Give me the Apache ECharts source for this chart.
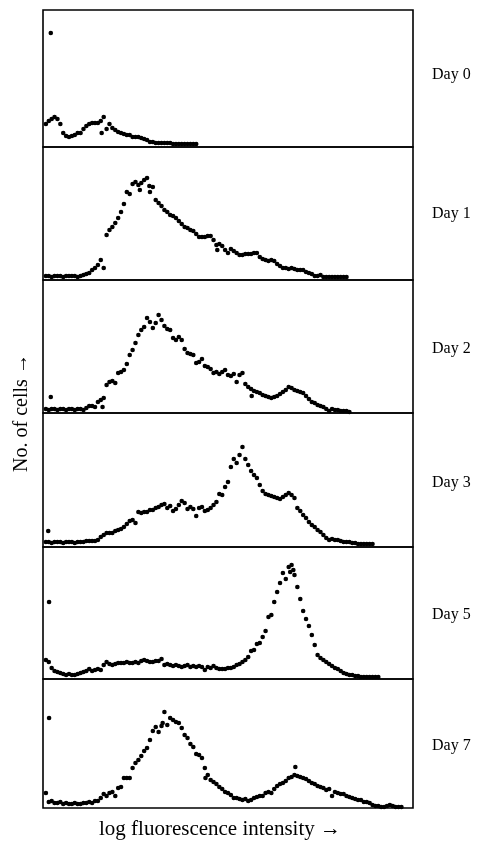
<!DOCTYPE html>
<html>
<head>
<meta charset="utf-8">
<script src="https://cdn.jsdelivr.net/npm/echarts@6/dist/echarts.min.js"></script>
<style>
html,body{margin:0;padding:0;background:#fff;}
#chart{width:486px;height:842px;}
</style>
</head>
<body>
<div id="chart"></div>
<script>
// ---- data (channel index = position in array; value = relative number of cells) ----
const panelLabels = ['Day 0', 'Day 1', 'Day 2', 'Day 3', 'Day 5', 'Day 7'];
const xAxisTitle = 'log fluorescence intensity \u2192';
const yAxisTitle = 'No. of cells \u2192';
const channelCount = 128;

const day0 = [null,
  23,26,28,30,28,23,14,11,10,11,
  12,14,14,18,21,23,24,24,24,26,
  30,18,23,19,17,15,14,13,12,12,
  10,10,10,9,8,7,5,5,4,4,
  4,4,4,4,3,3,3,3,3,3,
  3,3,3];
const day0Extra = [[2.7,114],[20.3,14]];

const day1 = [null,
  4,4,3,4,4,4,3,4,4,4,4,3,4,
  5,6,7,10,12,15,20,
  12,45,50,53,57,62,68,76,88,86,
  96,98,95,97,100,102,88,93,80,77,
  74,70,68,65,64,62,59,56,53,52,
  50,49,46,43,43,43,44,44,40,35,
  36,34,30,27,31,29,27,25,25,26,
  26,26,27,27,23,21,20,19,20,19,
  16,14,12,12,11,12,11,10,10,10,
  8,7,6,4,4,5,3,3,3,3,
  3,3,3,3,3];
const day1Extra = [[60.3,30],[33.5,90],[36.8,94]];

const day2 = [null,
  4,3,4,4,3,4,4,3,4,4,3,4,4,3,5,
  7,7,6,11,13,
  15,28,31,32,30,40,41,43,49,58,
  63,70,78,83,86,95,91,85,90,98,
  93,87,84,83,75,73,76,73,64,60,
  59,58,50,51,54,47,46,44,40,41,
  39,41,43,38,37,39,31,38,40,29,
  26,24,22,21,20,18,17,16,15,16,
  17,19,21,23,26,25,23,22,21,20,
  17,14,11,10,8,7,6,4,2,4,
  3,3,2,2,2,1];
const day2Extra = [[2.7,16],[72.2,17],[20.6,6]];

const day3 = [null,
  5,5,4,5,5,5,4,5,5,5,4,5,5,5,6,
  6,6,6,7,10,
  12,14,14,14,16,17,18,20,23,26,
  27,24,35,34,35,35,37,37,39,40,
  42,43,39,41,36,38,42,46,44,38,
  40,38,31,39,40,36,37,39,42,45,
  53,52,60,65,80,88,84,92,100,88,
  82,76,72,69,62,56,53,52,51,50,
  49,48,50,52,54,52,49,39,36,32,
  29,25,22,20,17,15,12,9,7,8,
  7,7,6,5,5,5,4,4,3,3,3,3,3,3];
const day3Extra = [[1.8,16]];

const day5 = [null,
  19,17,11,8,7,6,5,4,5,4,
  4,5,6,7,8,10,8,9,10,9,
  14,17,15,14,15,16,16,16,17,16,
  16,17,16,18,19,18,17,17,18,18,
  20,14,15,14,13,14,13,12,13,14,
  12,13,12,13,12,9,12,11,13,11,
  10,10,10,11,11,12,14,15,17,19,
  22,28,29,35,36,42,48,62,64,77,
  87,96,106,100,112,114,104,92,80,68,
  60,53,44,34,24,21,19,17,15,13,
  11,10,8,6,5,4,4,3,3,2,
  2,2,2,2,2,2];
const day5Extra = [[2.1,77],[86.6,109],[85.5,107]];

const day7 = [null,
  15,6,7,5,5,6,4,5,4,4,
  5,4,4,5,5,6,5,7,7,10,
  14,12,15,16,12,20,21,30,30,30,
  40,45,48,52,57,60,68,77,81,76,
  82,96,83,90,88,86,85,80,73,70,
  64,61,54,53,50,40,33,28,26,24,
  21,19,16,15,13,10,10,9,8,9,
  7,8,10,11,12,12,15,16,15,19,
  22,24,25,27,30,31,33,32,31,30,
  29,27,25,24,22,21,20,18,19,12,
  16,15,14,14,12,11,10,9,8,8,
  6,6,5,3,2,2,1,1,2,3,
  2,1,1,1];
const day7Extra = [[2.1,90],[87.3,41],[41.4,85],[56.2,30]];

const panelSeries = [day0, day1, day2, day3, day5, day7];
const panelExtras = [day0Extra, day1Extra, day2Extra, day3Extra, day5Extra, day7Extra];

// ---- layout ----
const panelTops = [10, 147, 280, 413, 547, 679];
const panelBottoms = [147, 280, 413, 547, 679, 808];
const plotLeft = 43, plotWidth = 370;
const labelCenters = [75, 214, 349, 483, 615, 746];
const ink = '#000';
const serif = '"Liberation Serif", "Times New Roman", serif';

const chart = echarts.init(document.getElementById('chart'), null, {renderer: 'canvas'});

const grids = [], xAxes = [], yAxes = [], series = [], graphics = [];
panelSeries.forEach((vals, p) => {
  const h = panelBottoms[p] - panelTops[p];
  grids.push({
    left: plotLeft, width: plotWidth, top: panelTops[p], height: h,
    show: true, borderColor: ink, borderWidth: 1.6, backgroundColor: 'transparent'
  });
  xAxes.push({type: 'value', gridIndex: p, min: 0, max: channelCount, show: false});
  yAxes.push({type: 'value', gridIndex: p, min: 0, max: h, show: false});
  const pts = [];
  vals.forEach((v, i) => { if (v !== null) pts.push([i, v]); });
  panelExtras[p].forEach(e => pts.push(e));
  series.push({
    type: 'scatter', xAxisIndex: p, yAxisIndex: p, data: pts,
    symbol: 'circle', symbolSize: 4.6, clip: false, silent: true,
    itemStyle: {color: ink, opacity: 1}
  });
  graphics.push({
    type: 'text', x: 432, y: labelCenters[p],
    style: {text: panelLabels[p], font: '16px ' + serif, fill: ink, align: 'left', verticalAlign: 'middle'}
  });
});

graphics.push({
  type: 'text', x: 220, y: 829,
  style: {text: xAxisTitle, font: '21px ' + serif, fill: ink, align: 'center', verticalAlign: 'middle'}
});
graphics.push({
  type: 'text', x: 22, y: 413, rotation: Math.PI / 2,
  style: {text: yAxisTitle, font: '20px ' + serif, fill: ink, align: 'center', verticalAlign: 'middle'}
});

chart.setOption({
  animation: false,
  backgroundColor: '#fff',
  grid: grids,
  xAxis: xAxes,
  yAxis: yAxes,
  series: series,
  graphic: graphics
});
</script>
</body>
</html>
